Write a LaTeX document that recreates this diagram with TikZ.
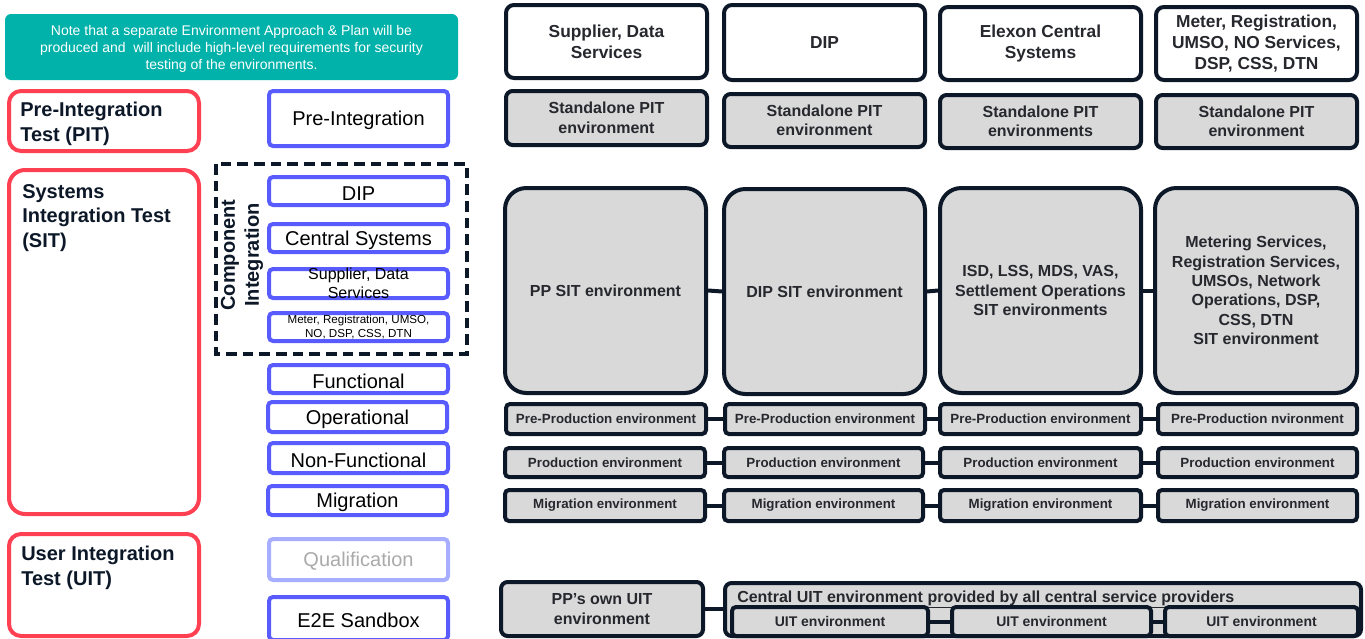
\documentclass[tikz,border=0pt]{standalone}
\usepackage{fontspec}
\setmainfont{Liberation Sans}
\definecolor{teal1}{RGB}{0,178,169}
\definecolor{redc}{RGB}{255,64,82}
\definecolor{bluec}{RGB}{88,92,255}
\definecolor{lblue}{RGB}{168,174,255}
\definecolor{navy}{RGB}{12,24,40}
\definecolor{grayf}{RGB}{217,217,217}
\definecolor{txt}{RGB}{38,40,46}
\definecolor{qtxt}{RGB}{170,170,170}
% \bx{name}{box style}{label style}{x1}{y1}{x2}{y2}{text}
\newcommand{\bx}[8]{\node[#2, minimum width={(#6-#4)*0.75pt}, minimum height={(#7-#5)*0.75pt}, label={[#3]center:{#8}}] (#1) at ({(#4+#6)/2},{(#5+#7)/2}) {};}
\tikzset{
 notebox/.style={fill=teal1, rounded corners=4.5pt, inner sep=0pt},
 notetxt/.style={text=white, align=center, yshift=-1.5pt, font=\fontsize{10.5}{12.8}\selectfont},
 phasebox/.style={draw=redc, line width=3pt, rounded corners=9pt, inner sep=0pt},
 phasetxt/.style={text=navy, align=left, inner sep=0pt, anchor=north west, font=\bfseries\fontsize{15}{18.4}\selectfont},
 testbox/.style={draw=bluec, line width=3pt, rounded corners=3pt, fill=white, inner sep=0pt},
 qualbox/.style={testbox, draw=lblue},
 testtxt/.style={text=black, align=center, yshift=-1.6pt, font=\fontsize{15}{18}\selectfont},
 qualtxt/.style={testtxt, text=qtxt},
 smalltxt/.style={text=black, align=center, font=\fontsize{12}{14.6}\selectfont},
 tinytxt/.style={text=black, align=center, font=\fontsize{8.7}{10}\selectfont},
 dashbox/.style={draw=navy, line width=2.5pt, dash pattern=on 8pt off 4.5pt},
 citxt/.style={text=navy, align=center, rotate=90, font=\bfseries\fontsize{15}{18}\selectfont},
 envhead/.style={draw=navy, line width=3pt, rounded corners=6pt, fill=white, inner sep=0pt},
 envbox/.style={draw=navy, line width=3pt, rounded corners=5pt, fill=grayf, inner sep=0pt},
 sitbox/.style={envbox, rounded corners=16pt},
 rowbox/.style={envbox, rounded corners=3pt},
 headtxt/.style={text=txt, align=center, font=\bfseries\fontsize{13}{15.7}\selectfont},
 envtxt/.style={text=txt, align=center, font=\bfseries\fontsize{12}{14.6}\selectfont},
 rowtxt/.style={text=txt, align=center, font=\bfseries\fontsize{10}{12}\selectfont},
 uittxt/.style={text=txt, align=center, font=\bfseries\fontsize{10.5}{12.6}\selectfont},
 conn/.style={draw=navy, line width=3pt},
}
\begin{document}
\begin{tikzpicture}[x=0.75pt,y=-0.75pt]
\useasboundingbox (0,0) rectangle (1365,639);
\clip (0,0) rectangle (1365,639);

% note
\bx{note}{notebox}{notetxt}{5}{14}{458}{80}{Note that a separate Environment Approach \& Plan will be\\produced and\ \ will include high-level requirements for security\\testing of the environments.}

% phases (red)
\bx{pit}{phasebox}{}{9}{91}{199}{151}{}
\bx{sit}{phasebox, rounded corners=12pt}{}{9}{170}{199}{514}{}
\bx{uit}{phasebox}{}{9}{534}{199}{636}{}
\node[phasetxt] (pitT) at (20,102) {Pre-Integration\\Test (PIT)};
\node[phasetxt] (sitT) at (22,184) {Systems\\Integration Test\\(SIT)};
\node[phasetxt] (uitT) at (21,546) {User Integration\\Test (UIT)};

% component integration
\draw[dashbox] (216,164) rectangle (467,354);
\node[citxt] (ci) at (242,255) {Component\\Integration};

% test types (blue)
\bx{tpre}{testbox}{testtxt}{269}{91}{448}{146}{Pre-Integration}
\bx{tdip}{testbox}{testtxt}{269}{177}{448}{205}{DIP}
\bx{tcs}{testbox}{testtxt}{269}{224}{448}{252}{Central Systems}
\bx{tsup}{testbox}{smalltxt}{269}{269}{448}{298}{Supplier, Data\\Services}
\bx{tmet}{testbox}{tinytxt}{269}{313}{448}{341}{Meter, Registration, UMSO,\\NO, DSP, CSS, DTN}
\bx{tfun}{testbox}{testtxt}{269}{365}{448}{393}{Functional}
\bx{top}{testbox}{testtxt}{268}{402}{447}{432}{Operational}
\bx{tnf}{testbox}{testtxt}{269}{443}{448}{473}{Non-Functional}
\bx{tmig}{testbox}{testtxt}{268}{486}{447}{515}{Migration}
\bx{tqual}{qualbox}{qualtxt}{269}{539}{448}{580}{Qualification}
\bx{te2e}{testbox}{testtxt}{269}{597}{448}{640}{E2E Sandbox}

% headers
\bx{h1}{envhead}{headtxt}{506}{5}{707}{78}{Supplier, Data\\Services}
\bx{h2}{envhead}{headtxt}{724}{5}{925}{80}{DIP}
\bx{h3}{envhead}{headtxt}{940}{7}{1141}{80}{Elexon Central\\Systems}
\bx{h4}{envhead}{headtxt}{1156}{7}{1357}{80}{Meter, Registration,\\UMSO, NO Services,\\DSP, CSS, DTN}

% standalone PIT
\bx{p1}{envbox}{envtxt}{506}{91}{707}{145}{Standalone PIT\\environment}
\bx{p2}{envbox}{envtxt}{724}{94}{925}{147}{Standalone PIT\\environment}
\bx{p3}{envbox}{envtxt}{940}{95}{1141}{148}{Standalone PIT\\environments}
\bx{p4}{envbox}{envtxt}{1156}{95}{1357}{148}{Standalone PIT\\environment}

% SIT
\bx{s1}{sitbox}{envtxt}{505}{188}{706}{393}{PP SIT environment}
\bx{s2}{sitbox}{envtxt}{724}{189}{925}{394}{DIP SIT environment}
\bx{s3}{sitbox}{envtxt}{940}{188}{1141}{393}{ISD, LSS, MDS, VAS,\\Settlement Operations\\SIT environments}
\bx{s4}{sitbox}{envtxt}{1155}{188}{1357}{393}{Metering Services,\\Registration Services,\\UMSOs, Network\\Operations, DSP,\\CSS, DTN\\SIT environment}

% Pre-production
\bx{r1}{rowbox}{rowtxt}{506}{404}{706}{434}{Pre-Production environment}
\bx{r2}{rowbox}{rowtxt}{725}{404}{925}{434}{Pre-Production environment}
\bx{r3}{rowbox}{rowtxt}{940}{404}{1141}{434}{Pre-Production environment}
\bx{r4}{rowbox}{rowtxt}{1158}{404}{1357}{434}{Pre-Production nvironment}

% Production
\bx{d1}{rowbox}{rowtxt}{505}{448}{705}{477}{Production environment}
\bx{d2}{rowbox}{rowtxt}{724}{448}{923}{477}{Production environment}
\bx{d3}{rowbox}{rowtxt}{940}{448}{1141}{477}{Production environment}
\bx{d4}{rowbox}{rowtxt}{1158}{448}{1357}{477}{Production environment}

% Migration
\bx{m1}{rowbox}{rowtxt}{505}{490}{705}{521}{Migration environment}
\bx{m2}{rowbox}{rowtxt}{724}{490}{923}{521}{Migration environment}
\bx{m3}{rowbox}{rowtxt}{940}{490}{1141}{521}{Migration environment}
\bx{m4}{rowbox}{rowtxt}{1158}{490}{1357}{521}{Migration environment}

% UIT
\bx{ppu}{envbox}{envtxt}{501}{582}{703}{636}{PP’s own UIT\\environment}
\bx{cu}{envbox}{}{725}{583}{1361}{636}{}
\node[anchor=base west, inner sep=0pt, text=txt, font=\bfseries\fontsize{12}{14}\selectfont] (cuT) at (737,602) {\underline{Central UIT environment provided by all central service providers}};
\bx{u1}{rowbox}{uittxt}{732}{607}{928}{636}{UIT environment}
\bx{u2}{rowbox}{uittxt}{952}{607}{1151}{636}{UIT environment}
\bx{u3}{rowbox}{uittxt}{1165}{607}{1358}{636}{UIT environment}

% connectors
\draw[conn] (s1.east) -- (s2.west);
\draw[conn] (s2.east) -- (s3.west);
\draw[conn] (s3.east) -- (s4.west);
\draw[conn] (r1.east) -- (r2.west);
\draw[conn] (r2.east) -- (r3.west);
\draw[conn] (r3.east) -- (r4.west);
\draw[conn] (d1.east) -- (d2.west);
\draw[conn] (d2.east) -- (d3.west);
\draw[conn] (d3.east) -- (d4.west);
\draw[conn] (m1.east) -- (m2.west);
\draw[conn] (m2.east) -- (m3.west);
\draw[conn] (m3.east) -- (m4.west);
\draw[conn] (ppu.east) -- (ppu.east -| cu.west);
\draw[conn] (u1.east) -- (u2.west);
\draw[conn] (u2.east) -- (u3.west);
\end{tikzpicture}
\end{document}
